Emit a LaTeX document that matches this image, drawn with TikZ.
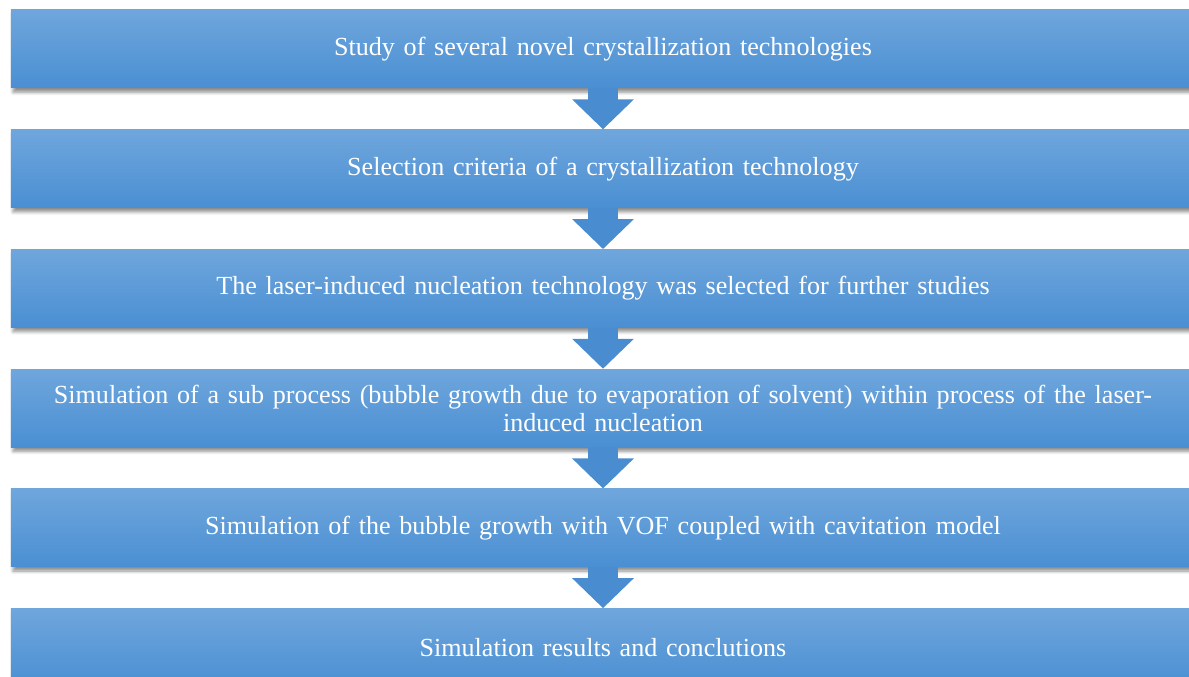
\documentclass[tikz,border=0pt]{standalone}
\usepackage{fontspec}
\setmainfont{Liberation Serif}
\usepackage{xcolor}
\definecolor{stageTop}{HTML}{6FA6DC}
\definecolor{stageBottom}{HTML}{4A8FD3}
\definecolor{arrowBlue}{HTML}{4A8CD0}
\usepackage{tikz}
\usetikzlibrary{positioning,arrows.meta,shadows.blur}
\tikzset{%
  stageBox/.style={%
    rectangle,
    top color=stageTop,
    bottom color=stageBottom,
    draw=none,
    minimum width=23.68cm,
    minimum height=1.56cm,
    text width=22.6cm,
    align=center,
    text=white,
    font=\fontsize{14.85}{15.9}\selectfont,
    blur shadow={shadow xshift=1.2pt, shadow yshift=-2.4pt, shadow blur steps=6, shadow opacity=45}
  },
  flowArrow/.style={%
    line width=0.6cm,
    draw=arrowBlue,
    -{Triangle[length=0.6cm,width=1.2cm]}
  }
}

\begin{document}
\begin{tikzpicture}
  \clip (0,0) rectangle (23.78,-13.54);
  \useasboundingbox (0,0) rectangle (23.78,-13.54);

  \node[stageBox] (study) at (12.06,-0.98) {Study of several novel crystallization technologies};
  \node[stageBox, below=0.82cm of study] (criteria) {Selection criteria of a crystallization technology};
  \node[stageBox, below=0.82cm of criteria] (laser) {The laser-induced nucleation technology was selected for further studies};
  \node[stageBox, below=0.82cm of laser] (subproc) {Simulation of a sub process (bubble growth due to evaporation of solvent) within process of the laser-\\induced nucleation};
  \node[stageBox, below=0.82cm of subproc] (vof) {Simulation of the bubble growth with VOF coupled with cavitation model};
  \node[stageBox, below=0.82cm of vof] (results) {Simulation results and conclutions};

  \draw[flowArrow] (study.south) -- (criteria.north);
  \draw[flowArrow] (criteria.south) -- (laser.north);
  \draw[flowArrow] (laser.south) -- (subproc.north);
  \draw[flowArrow] (subproc.south) -- (vof.north);
  \draw[flowArrow] (vof.south) -- (results.north);
\end{tikzpicture}
\end{document}
